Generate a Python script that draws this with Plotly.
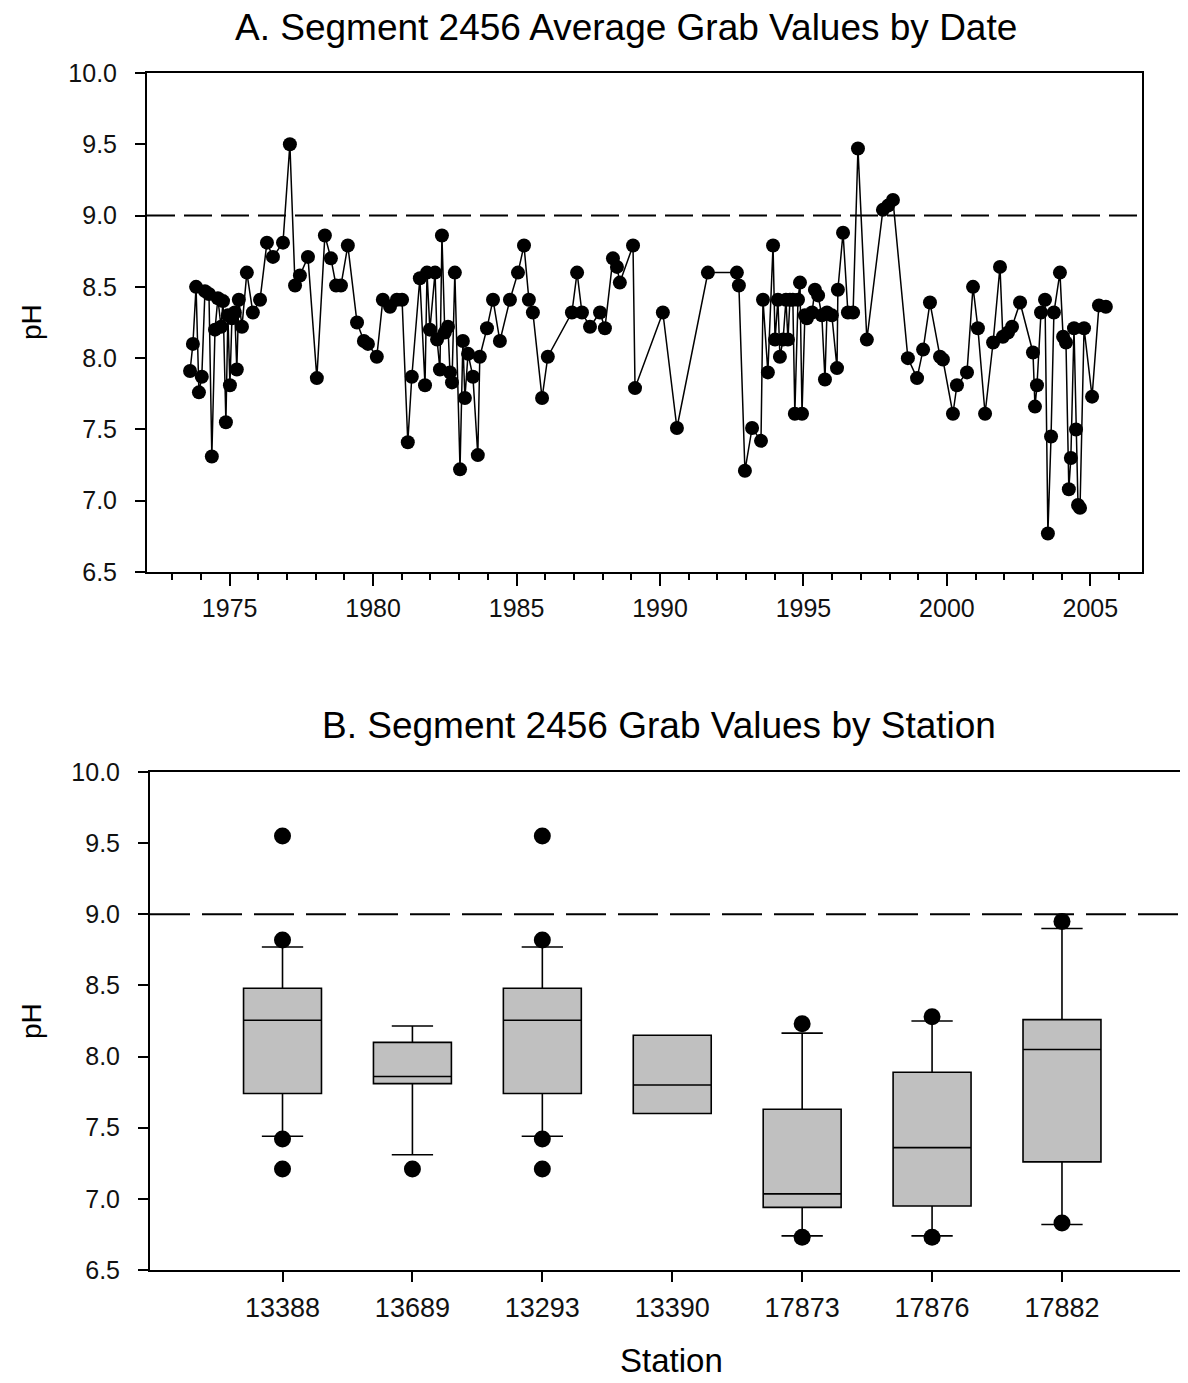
import plotly.graph_objects as go

# ---------------- Data ----------------
# Panel A: average grab pH by date (decimal year)
DATES = [
    1973.62, 1973.72, 1973.83, 1973.93, 1974.03, 1974.14, 1974.28, 1974.38, 1974.49, 1974.59,
    1974.70, 1974.77, 1974.87, 1974.94, 1975.01, 1975.08, 1975.18, 1975.25, 1975.32, 1975.43,
    1975.60, 1975.81, 1976.06, 1976.30, 1976.51, 1976.86, 1977.10, 1977.28, 1977.45, 1977.73,
    1978.04, 1978.32, 1978.53, 1978.71, 1978.88, 1979.12, 1979.44, 1979.68, 1979.82, 1980.13,
    1980.34, 1980.59, 1980.83, 1981.01, 1981.21, 1981.35, 1981.63, 1981.81, 1981.88, 1981.98,
    1982.16, 1982.23, 1982.33, 1982.40, 1982.50, 1982.61, 1982.68, 1982.75, 1982.85, 1983.03,
    1983.13, 1983.20, 1983.31, 1983.48, 1983.65, 1983.72, 1983.97, 1984.18, 1984.42, 1984.77,
    1985.05, 1985.26, 1985.43, 1985.57, 1985.89, 1986.09, 1986.93, 1987.11, 1987.28, 1987.56,
    1987.91, 1988.08, 1988.36, 1988.50, 1988.60, 1989.06, 1989.13, 1990.10, 1990.59, 1991.67,
    1992.68, 1992.75, 1992.96, 1993.21, 1993.52, 1993.59, 1993.76, 1993.94, 1994.01, 1994.11,
    1994.18, 1994.29, 1994.39, 1994.46, 1994.53, 1994.63, 1994.70, 1994.81, 1994.88, 1994.95,
    1995.05, 1995.12, 1995.30, 1995.40, 1995.51, 1995.64, 1995.75, 1995.82, 1995.99, 1996.17,
    1996.20, 1996.38, 1996.55, 1996.73, 1996.90, 1997.21, 1997.77, 1997.95, 1998.12, 1998.64,
    1998.96, 1999.17, 1999.41, 1999.76, 1999.86, 2000.21, 2000.35, 2000.70, 2000.91, 2001.08,
    2001.33, 2001.61, 2001.85, 2001.95, 2002.13, 2002.27, 2002.55, 2003.00, 2003.07, 2003.14,
    2003.28, 2003.42, 2003.52, 2003.63, 2003.73, 2003.94, 2004.05, 2004.15, 2004.25, 2004.32,
    2004.43, 2004.50, 2004.57, 2004.64, 2004.78, 2005.06, 2005.30, 2005.54,
]
PH_VALUES = [
    7.91, 8.10, 8.50, 7.76, 7.87, 8.47, 8.45, 7.31, 8.20, 8.42,
    8.22, 8.40, 7.55, 8.30, 7.81, 8.28, 8.32, 7.92, 8.41, 8.22,
    8.60, 8.32, 8.41, 8.81, 8.71, 8.81, 9.50, 8.51, 8.58, 8.71,
    7.86, 8.86, 8.70, 8.51, 8.51, 8.79, 8.25, 8.12, 8.10, 8.01,
    8.41, 8.36, 8.41, 8.41, 7.41, 7.87, 8.56, 7.81, 8.60, 8.20,
    8.60, 8.13, 7.92, 8.86, 8.18, 8.22, 7.90, 7.83, 8.60, 7.22,
    8.12, 7.72, 8.03, 7.87, 7.32, 8.01, 8.21, 8.41, 8.12, 8.41,
    8.60, 8.79, 8.41, 8.32, 7.72, 8.01, 8.32, 8.60, 8.32, 8.22,
    8.32, 8.21, 8.70, 8.64, 8.53, 8.79, 7.79, 8.32, 7.51, 8.60,
    8.60, 8.51, 7.21, 7.51, 7.42, 8.41, 7.90, 8.79, 8.13, 8.41,
    8.01, 8.13, 8.41, 8.13, 8.41, 8.41, 7.61, 8.41, 8.53, 7.61,
    8.30, 8.28, 8.32, 8.48, 8.44, 8.30, 7.85, 8.32, 8.30, 7.93,
    8.48, 8.88, 8.32, 8.32, 9.47, 8.13, 9.04, 9.07, 9.11, 8.00,
    7.86, 8.06, 8.39, 8.01, 7.99, 7.61, 7.81, 7.90, 8.50, 8.21,
    7.61, 8.11, 8.64, 8.15, 8.18, 8.22, 8.39, 8.04, 7.66, 7.81,
    8.32, 8.41, 6.77, 7.45, 8.32, 8.60, 8.15, 8.11, 7.08, 7.30,
    8.21, 7.50, 6.97, 6.95, 8.21, 7.73, 8.37, 8.36,
]

# Panel B: grab pH by station (box summary statistics)
STATIONS = ["13388", "13689", "13293", "13390", "17873", "17876", "17882"]
LOWER_WHISKER = [7.44, 7.31, 7.44, 7.60, 6.74, 6.74, 6.82]
Q1 = [7.74, 7.81, 7.74, 7.60, 6.94, 6.95, 7.26]
MEDIAN = [8.255, 7.86, 8.255, 7.80, 7.035, 7.36, 8.05]
Q3 = [8.48, 8.10, 8.48, 8.15, 7.63, 7.89, 8.26]
UPPER_WHISKER = [8.77, 8.215, 8.77, 8.15, 8.165, 8.25, 8.90]

OUTLIER_STATION = ["13388", "13388", "13388", "13388", "13689",
                   "13293", "13293", "13293", "13293",
                   "17873", "17873", "17876", "17876", "17882", "17882"]
OUTLIER_PH = [9.55, 8.82, 7.42, 7.21, 7.21,
              9.55, 8.82, 7.42, 7.21,
              8.23, 6.73, 8.28, 6.73, 8.95, 6.83]

PH_CRITERION = 9.0
Y_TICKS = [6.5, 7.0, 7.5, 8.0, 8.5, 9.0, 9.5, 10.0]
Y_TICK_TEXT = ["6.5", "7.0", "7.5", "8.0", "8.5", "9.0", "9.5", "10.0"]

# ---------------- Figure ----------------
FONT = "Liberation Sans, Arial, sans-serif"
OFFSET = 8                  # page body margin of the html page
W, H = 1188 - OFFSET, 1383 - OFFSET

fig = go.Figure()

fig.add_trace(go.Scatter(
    x=DATES, y=PH_VALUES, mode="lines+markers",
    line=dict(color="black", width=1.5),
    marker=dict(color="black", size=14, symbol="circle"),
    xaxis="x", yaxis="y", showlegend=False,
))

fig.add_trace(go.Box(
    x=STATIONS, q1=Q1, median=MEDIAN, q3=Q3,
    lowerfence=LOWER_WHISKER, upperfence=UPPER_WHISKER,
    boxpoints=False, width=0.6, whiskerwidth=0.53,
    fillcolor="#C0C0C0", line=dict(color="black", width=1.6),
    xaxis="x2", yaxis="y2", showlegend=False,
))

fig.add_trace(go.Scatter(
    x=OUTLIER_STATION, y=OUTLIER_PH, mode="markers",
    marker=dict(color="black", size=17, symbol="circle"),
    xaxis="x2", yaxis="y2", showlegend=False,
))

def px_x(p):
    return (p - OFFSET) / W

def px_y(p):
    return 1 - (p - OFFSET) / H

axis_common = dict(
    showgrid=False, zeroline=False, showline=True, linecolor="black", linewidth=2,
    ticks="outside", tickcolor="black", tickwidth=1.5, automargin=False,
    tickfont=dict(family=FONT, size=25, color="#111111"),
)

fig.update_layout(
    template="none",
    width=W, height=H,
    margin=dict(l=0, r=0, t=0, b=0, pad=0),
    paper_bgcolor="white", plot_bgcolor="white",
    showlegend=False,
    xaxis=dict(
        **axis_common,
        domain=[px_x(147), px_x(1142)], anchor="y",
        range=[1972.12, 2006.80], tick0=1975, dtick=5, ticklen=12,
        mirror=True, ticklabelstandoff=1,
        minor=dict(dtick=1, tick0=1975, ticks="outside", ticklen=6, tickcolor="black", tickwidth=1.5, showgrid=False),
    ),
    yaxis=dict(
        **axis_common,
        domain=[px_y(572), px_y(73)], anchor="x",
        range=[6.5, 10.0], tickvals=Y_TICKS, ticktext=Y_TICK_TEXT, ticklen=10,
        mirror=True, ticklabelstandoff=13,
    ),
    xaxis2=dict(
        **axis_common,
        domain=[px_x(150), 1.0], anchor="y2",
        type="category", categoryorder="array", categoryarray=STATIONS,
        range=[-1.02, 6.97], ticklen=10, mirror=True, ticklabelstandoff=3,
    ),
    yaxis2=dict(
        **axis_common,
        domain=[px_y(1270), px_y(772)], anchor="x2",
        range=[6.5, 10.0], tickvals=Y_TICKS, ticktext=Y_TICK_TEXT, ticklen=10,
        ticklabelstandoff=13,
    ),
    shapes=[
        dict(type="line", xref="x domain", yref="y", x0=0, x1=1, y0=PH_CRITERION, y1=PH_CRITERION,
             line=dict(color="black", width=2, dash="28px,9px"), layer="below"),
        dict(type="line", xref="x2 domain", yref="y2", x0=0, x1=1, y0=PH_CRITERION, y1=PH_CRITERION,
             line=dict(color="black", width=2, dash="40px,12px"), layer="below"),
    ],
    annotations=[
        dict(text="A. Segment 2456 Average Grab Values by Date", xref="paper", yref="paper",
             x=px_x(626), y=px_y(27), xanchor="center", yanchor="middle", showarrow=False,
             font=dict(family=FONT, size=37, color="black")),
        dict(text="B. Segment 2456 Grab Values by Station", xref="paper", yref="paper",
             x=px_x(659), y=px_y(725), xanchor="center", yanchor="middle", showarrow=False,
             font=dict(family=FONT, size=37, color="black")),
        dict(text="pH", xref="paper", yref="paper", x=px_x(32), y=px_y(322),
             xanchor="center", yanchor="middle", textangle=-90, showarrow=False,
             font=dict(family=FONT, size=28, color="black")),
        dict(text="pH", xref="paper", yref="paper", x=px_x(32), y=px_y(1021),
             xanchor="center", yanchor="middle", textangle=-90, showarrow=False,
             font=dict(family=FONT, size=28, color="black")),
        dict(text="Station", xref="paper", yref="paper", x=px_x(671), y=px_y(1360),
             xanchor="center", yanchor="middle", showarrow=False,
             font=dict(family=FONT, size=33, color="black")),
    ],
)

fig.update_xaxes(tickfont=dict(family=FONT, size=25, color="#111111"))
fig.layout.xaxis2.tickfont.size = 27

fig.write_html("out.html")
